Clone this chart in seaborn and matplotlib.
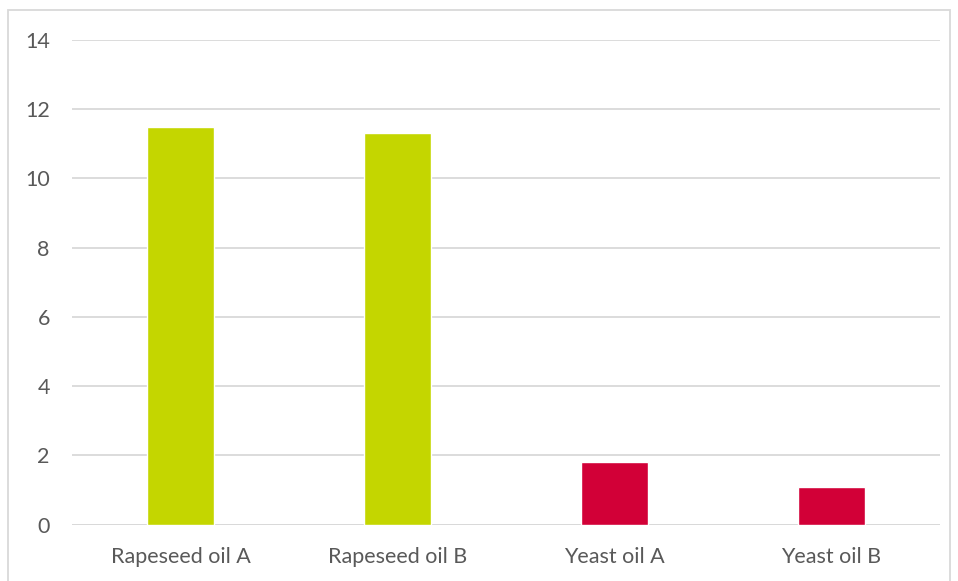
import matplotlib
matplotlib.use("Agg")
import matplotlib.pyplot as plt
import seaborn as sns
import pandas as pd
from matplotlib.patches import Rectangle

categories = ["Rapeseed oil A", "Rapeseed oil B", "Yeast oil A", "Yeast oil B"]
values = [11.5, 11.3, 1.8, 1.1]
colors = ["#C4D600", "#C4D600", "#D20037", "#D20037"]
yticks = [0, 2, 4, 6, 8, 10, 12, 14]

df = pd.DataFrame({"category": categories, "value": values})

sns.set_theme(style="white")
plt.rcParams['font.family'] = ['Lato', 'DejaVu Sans']

fig = plt.figure(figsize=(9.58, 5.81), dpi=100)
ax = fig.add_axes([72/958, 1 - 524.7/581, 868/958, 484.7/581])

sns.barplot(data=df, x="category", y="value", hue="category", palette=colors,
            width=0.313, legend=False, ax=ax, saturation=1)

ax.set_ylim(0, 14)
ax.set_yticks(yticks)
ax.set_xlim(-0.5, 3.5)
ax.yaxis.grid(True, color="#D9D9D9", linewidth=1.3)
ax.set_axisbelow(True)
for s in ax.spines.values():
    s.set_visible(False)
ax.axhline(0, color="#D9D9D9", linewidth=1.3, zorder=0.5)
ax.set_xlabel("")
ax.set_ylabel("")
ax.tick_params(axis="both", length=0, labelsize=15.5, colors="#595959")
ax.tick_params(axis="y", pad=16)
ax.tick_params(axis="x", pad=16)

border = Rectangle((8/958, -0.1), (950-8)/958, 1 - 10/581 + 0.1, transform=fig.transFigure,
                   fill=False, edgecolor="#D9D9D9", linewidth=1.3)
fig.patches.append(border)

fig.savefig("out.png", dpi=100)
